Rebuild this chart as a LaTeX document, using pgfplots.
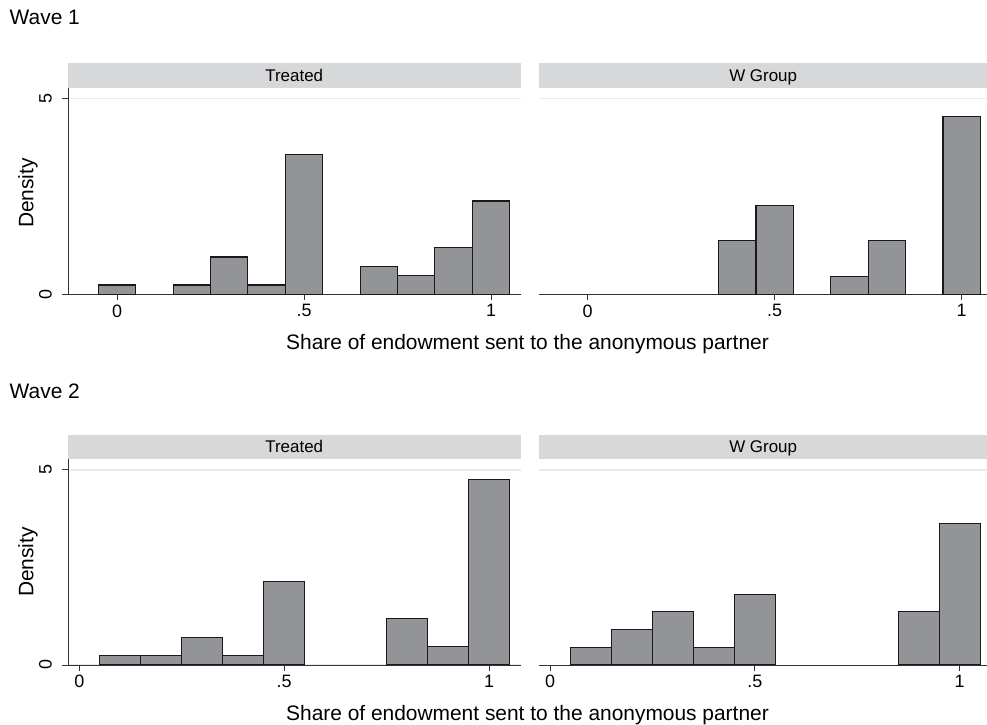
\documentclass[border=0pt]{standalone}
\usepackage{pgfplots}
\pgfplotsset{compat=1.18}
\usepackage{fontspec}
\setmainfont{Liberation Sans}
\definecolor{barfill}{HTML}{929497}
\definecolor{stripc}{HTML}{D7D8DA}
\definecolor{gridc}{HTML}{EAEAEA}
\definecolor{axc}{HTML}{333333}
\pgfplotsset{
  panel/.style={
    scale only axis, ybar, bar width=0.1, ymin=0,
    axis x line*=bottom, axis y line*=left,
    x axis line style={axc, line width=0.9bp, -},
    y axis line style={axc, line width=0.9bp, -},
    tick align=outside, major tick length=6bp,
    tick style={axc, line width=0.9bp},
    xtick={0,0.5,1}, xticklabels={0,.5,1},
    ymajorgrids, grid style={gridc, line width=1.3bp},
    xticklabel style={font=\fontsize{18}{21}\selectfont, inner sep=0pt, anchor=north, yshift=-4bp},
    yticklabel style={font=\fontsize{18}{21}\selectfont, inner sep=0pt, xshift=-10bp, rotate=90, anchor=south},
    /pgf/number format/assume math mode=true,
  },
  leftp/.style={panel, width=452.5bp, ytick={0,5}, yticklabels={0,5}},
  rightp/.style={panel, width=447.7bp, ytick={5}, yticklabels={}, ytick style={draw=none}, y axis line style={draw=none}},
  bars/.style={fill=barfill, draw=black!90, line width=1.1bp},
}
\begin{document}
\begin{tikzpicture}
\useasboundingbox (0bp,0bp) rectangle (987bp,725bp);
\def\tfont{\fontsize{21}{25}\selectfont}
\def\sfont{\fontsize{17}{20}\selectfont}
% ---------- Wave 1 ----------
\node[anchor=base west, inner sep=0pt, font=\tfont] at (9.5bp,700bp) {Wave 1};
\fill[stripc] (68bp,637.3bp) rectangle (520.5bp,661.7bp);
\fill[stripc] (539.3bp,637.3bp) rectangle (987bp,661.7bp);
\node[anchor=base, inner sep=0pt, font=\sfont] at (294.25bp,643.5bp) {Treated};
\node[anchor=base, inner sep=0pt, font=\sfont] at (763.15bp,643.5bp) {W Group};
\begin{axis}[leftp, at={(68bp,430.7bp)}, anchor=south west, height=206.3bp,
  xmin=-0.131, xmax=1.0789, ymax=5.263]
\addplot[bars] coordinates {(0,0.238) (0.2,0.238) (0.3,0.952) (0.4,0.238) (0.5,3.571) (0.7,0.714) (0.8,0.476) (0.9,1.190) (1.0,2.381)};
\end{axis}
\begin{axis}[rightp, at={(539.3bp,430.7bp)}, anchor=south west, height=206.3bp,
  xmin=-0.1294, xmax=1.0676, ymax=5.263]
\addplot[bars] coordinates {(0.4,1.364) (0.5,2.273) (0.7,0.455) (0.8,1.364) (1.0,4.545)};
\end{axis}
\node[font=\tfont, rotate=90] at (28bp,532bp) {Density};
\node[anchor=base, inner sep=0pt, font=\tfont] at (527.5bp,375bp) {Share of endowment sent to the anonymous partner};
% ---------- Wave 2 ----------
\node[anchor=base west, inner sep=0pt, font=\tfont] at (9.5bp,326bp) {Wave 2};
\fill[stripc] (68bp,266bp) rectangle (520.5bp,290.4bp);
\fill[stripc] (539.3bp,266bp) rectangle (987bp,290.4bp);
\node[anchor=base, inner sep=0pt, font=\sfont] at (294.25bp,272.2bp) {Treated};
\node[anchor=base, inner sep=0pt, font=\sfont] at (763.15bp,272.2bp) {W Group};
\begin{axis}[leftp, at={(68bp,60bp)}, anchor=south west, height=206bp,
  xmin=-0.0276, xmax=1.0769, ymax=5.28]
\addplot[bars] coordinates {(0.1,0.238) (0.2,0.238) (0.3,0.714) (0.4,0.238) (0.5,2.143) (0.8,1.190) (0.9,0.476) (1.0,4.762)};
\end{axis}
\begin{axis}[rightp, at={(539.3bp,60bp)}, anchor=south west, height=206bp,
  xmin=-0.0261, xmax=1.0666, ymax=5.28]
\addplot[bars] coordinates {(0.1,0.455) (0.2,0.909) (0.3,1.364) (0.4,0.455) (0.5,1.818) (0.9,1.364) (1.0,3.636)};
\end{axis}
\node[font=\tfont, rotate=90] at (28bp,163bp) {Density};
\node[anchor=base, inner sep=0pt, font=\tfont] at (527.5bp,5bp) {Share of endowment sent to the anonymous partner};
\end{tikzpicture}
\end{document}
